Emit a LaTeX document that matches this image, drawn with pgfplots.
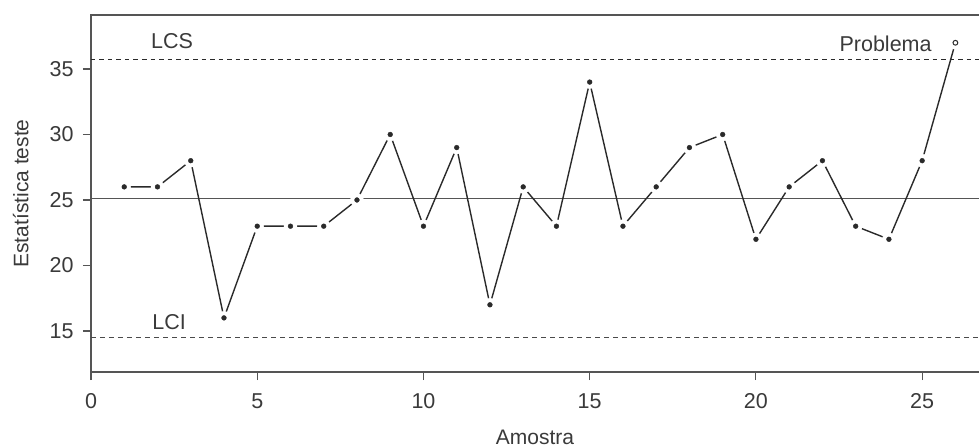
\documentclass[border=0pt]{standalone}
\usepackage{pgfplots}
\pgfplotsset{compat=1.18}
\usepackage{fontspec}
\setmainfont{Liberation Sans}
\definecolor{txt}{HTML}{3A3A3A}
\definecolor{frame}{HTML}{555555}
\definecolor{ln}{HTML}{2A2A2A}
\pgfplotstableread{
x y
1 26
2 26
3 28
4 16
5 23
6 23
7 23
8 25
9 30
10 23
11 29
12 17
13 26
14 23
15 34
16 23
17 26
18 29
19 30
20 22
21 26
22 28
23 23
24 22
25 28
26 37
}\data
\begin{document}
\begin{tikzpicture}
\begin{axis}[
  name=ax,
  scale only axis,
  width=888pt, height=357pt,
  xmin=0, xmax=26.71, ymin=11.87, ymax=39.12,
  xtick={0,5,10,15,20,25},
  ytick={15,20,25,30,35},
  xtick pos=bottom, ytick pos=left,
  tick align=outside,
  major tick length=8pt,
  tick style={frame, line width=1.1pt},
  axis line style={draw=none},
  /pgf/number format/assume math mode=true,
  ticklabel style={font=\fontsize{21.5}{24}\selectfont, text=txt},
  xticklabel style={yshift=-10pt},
  yticklabel style={xshift=-6pt},
  xlabel={Amostra}, ylabel={Estatística teste},
  label style={font=\fontsize{21}{24}\selectfont, text=txt},
  xlabel style={yshift=-14pt},
  ylabel style={yshift=14pt},
  clip=false,
]
\draw[frame, line width=1.4pt] (rel axis cs:1,1) -- (rel axis cs:0,1) -- (rel axis cs:0,0) -- (rel axis cs:1,0);
\addplot[frame, line width=1.5pt, no marks] coordinates {(0,25.1) (26.71,25.1)};
\addplot[ln, line width=1pt, dash pattern=on 4.5pt off 4pt, no marks] coordinates {(0,35.76) (26.71,35.76)};
\addplot[ln!85, line width=1pt, dash pattern=on 5pt off 4pt, no marks] coordinates {(0,14.5) (26.71,14.5)};
\addplot[ln, line width=1.4pt, no marks] table {\data};
\addplot[color=white, only marks, mark=*, mark size=6.5pt, mark options={solid, draw=white, fill=white}] table {\data};
\addplot[color=ln, only marks, mark=*, mark size=2.4pt, mark options={solid, draw=ln, fill=ln}] table[skip coords between index={25}{26}] {\data};
\addplot[color=ln, only marks, mark=*, mark size=2.4pt, mark options={solid, fill=white, draw=ln, line width=1pt}] coordinates {(26,37)};
\node[text=txt, font=\fontsize{21.5}{24}\selectfont] at (axis cs:2.44,37.1) {LCS};
\node[text=txt, font=\fontsize{21.5}{24}\selectfont] at (axis cs:2.35,15.69) {LCI};
\node[text=txt, font=\fontsize{21.5}{24}\selectfont] at (axis cs:23.9,36.9) {Problema};
\end{axis}
\pgfresetboundingbox
\path[use as bounding box] ([xshift=-91pt,yshift=-75pt]ax.south west) rectangle ([yshift=15pt]ax.north east);
\end{tikzpicture}
\end{document}
